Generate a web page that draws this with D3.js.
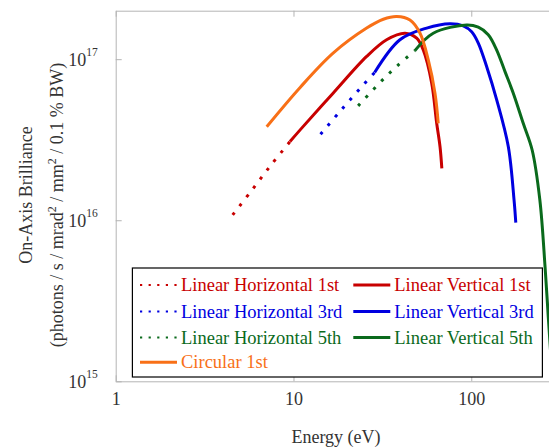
<!DOCTYPE html>
<html>
<head>
<meta charset="utf-8">
<script src="https://cdn.jsdelivr.net/npm/d3@7"></script>
<style>
  html, body { margin: 0; padding: 0; background: #fff; }
  svg { display: block; font-family: "Liberation Serif", "DejaVu Serif", serif; }
</style>
</head>
<body>
<svg id="chart" width="549" height="447"></svg>
<script>
// Energy (eV) / brilliance pairs, one array per curve
const lh1 = [[4.55, 1.08e16], [5.84, 1.54e16], [7.47, 2.20e16], [9.56, 3.08e16]];
const lv1 = [[9.56, 3.08e16], [10.9, 3.64e16], [16.7, 6.15e16], [25.8, 1.04e17], [33.4, 1.32e17],
  [42.4, 1.45e17], [49.3, 1.35e17], [53.7, 1.14e17], [59.9, 7.1e16], [63.9, 4.0e16],
  [66.7, 2.87e16], [68.3, 2.10e16]];
const lh3 = [[14.2, 3.42e16], [18.7, 4.89e16], [24.7, 6.92e16], [28.6, 8.26e16]];
const lv3 = [[28.6, 8.26e16], [39.7, 1.32e17], [56.1, 1.56e17], [75.9, 1.66e17], [90.2, 1.61e17],
  [100.5, 1.48e17], [109.5, 1.26e17], [122, 9.0e16], [139, 5.59e16], [161.5, 2.87e16],
  [174, 1.34e16], [178, 9.67e15]];
const lh5 = [[23.1, 5.13e16], [31.3, 7.33e16], [38.9, 9.22e16], [48.2, 1.13e17]];
const lv5 = [[48.2, 1.13e17], [61.1, 1.45e17], [94.2, 1.63e17], [109.5, 1.58e17], [124.6, 1.42e17],
  [139, 1.14e17], [154.8, 8.37e16], [172.3, 6.15e16], [196, 4.0e16], [220, 2.73e16],
  [243, 1.34e16], [260, 5.15e15], [271, 2.52e15], [285, 1.1e15]];
const circ1 = [[7.07, 3.81e16], [10.9, 6.68e16], [16.7, 1.09e17], [25.8, 1.56e17], [32.0, 1.77e17],
  [38.1, 1.84e17], [45.2, 1.75e17], [51.5, 1.45e17], [57.3, 9.9e16], [62.5, 6.15e16], [65.2, 4.0e16]];

const seriesNames = ['Linear Horizontal 1st', 'Linear Vertical 1st', 'Linear Horizontal 3rd',
  'Linear Vertical 3rd', 'Linear Horizontal 5th', 'Linear Vertical 5th', 'Circular 1st'];
const seriesData = [lh1, lv1, lh3, lv3, lh5, lv5, circ1];
const seriesColors = ['#c80000', '#c80000', '#0000e0', '#0000e0', '#0a6a1c', '#0a6a1c', '#f87017'];
const seriesDotted = [true, false, true, false, true, false, false];

const xTicks = [1, 10, 100];
const yTicks = [1e15, 1e16, 1e17];
const yTickExp = ['15', '16', '17'];

const AXIS = '#b4b4b4';
const TEXT = '#333';

const svg = d3.select('#chart');
const plotLeft = 115.7, plotTop = 10.7, plotBottom = 381.3;
const x = d3.scaleLog().domain([1, 300]).range([plotLeft, 556.1]);
const y = d3.scaleLog().domain([1e15, 2e17]).range([plotBottom, plotTop]);
const plotRight = x.range()[1];

svg.append('defs').append('clipPath').attr('id', 'plot-clip')
  .append('rect').attr('x', plotLeft).attr('y', plotTop)
  .attr('width', plotRight - plotLeft).attr('height', plotBottom - plotTop);

// axes: ticks point inwards, labels only on bottom / left
const styleAxis = (g) => {
  g.selectAll('.domain, .tick line').attr('stroke', AXIS).attr('stroke-width', 1);
  g.selectAll('.tick text').attr('fill', TEXT).attr('font-size', '18px')
    .attr('font-family', '"Liberation Serif", serif');
};

svg.append('g').attr('transform', `translate(0,${plotBottom})`)
  .call(d3.axisBottom(x).tickValues(xTicks).tickFormat(d3.format('d')).tickSizeInner(-6).tickSizeOuter(0).tickPadding(11))
  .call(styleAxis);
svg.append('g').attr('transform', `translate(0,${plotTop})`)
  .call(d3.axisTop(x).tickValues(xTicks).tickFormat('').tickSizeInner(-6).tickSizeOuter(0))
  .call(styleAxis);

const yAxis = svg.append('g').attr('transform', `translate(${plotLeft},0)`)
  .call(d3.axisLeft(y).tickValues(yTicks).tickFormat('').tickSizeInner(-6).tickSizeOuter(0))
  .call(styleAxis);
yAxis.selectAll('.tick').each(function (d, i) {
  const t = d3.select(this).append('text')
    .attr('x', -18).attr('y', 6).attr('text-anchor', 'end')
    .attr('fill', TEXT).attr('font-size', '18px').attr('font-family', '"Liberation Serif", serif');
  t.append('tspan').text('10');
  t.append('tspan').attr('dy', -9.5).attr('font-size', '11.5px').text(yTickExp[i]);
});
svg.append('g').attr('transform', `translate(${plotRight},0)`)
  .call(d3.axisRight(y).tickValues(yTicks).tickFormat('').tickSizeInner(-6).tickSizeOuter(0))
  .call(styleAxis);

// curves
const line = d3.line()
  .x((d) => x(d[0])).y((d) => y(d[1]))
  .curve(d3.curveCatmullRom.alpha(0.5));

const plot = svg.append('g').attr('clip-path', 'url(#plot-clip)');
const order = [0, 2, 4, 1, 3, 5, 6];
order.forEach((i) => {
  plot.append('path')
    .datum(seriesData[i])
    .attr('d', line)
    .attr('fill', 'none')
    .attr('stroke', seriesColors[i])
    .attr('stroke-width', 3)
    .attr('stroke-dasharray', seriesDotted[i] ? '3 8.2' : null);
});

// legend
const lg = svg.append('g');
lg.append('rect')
  .attr('x', 132.4).attr('y', 268).attr('width', 410).attr('height', 109)
  .attr('fill', '#fff').attr('stroke', '#000').attr('stroke-width', 1.2);

const legendCols = [140, 353.3];
const legendRows = [285, 311.5, 337.5, 362.3];
seriesNames.forEach((name, i) => {
  const cx = legendCols[i % 2];
  const cy = legendRows[Math.floor(i / 2)];
  lg.append('line')
    .attr('x1', cx).attr('x2', cx + 37).attr('y1', cy).attr('y2', cy)
    .attr('stroke', seriesColors[i]).attr('stroke-width', seriesDotted[i] ? 2.2 : 3)
    .attr('stroke-dasharray', seriesDotted[i] ? '2.2 6.4' : null);
  lg.append('text')
    .attr('x', cx + 41).attr('y', cy).attr('dy', '0.33em')
    .attr('fill', seriesColors[i]).attr('font-size', '18.5px')
    .text(name);
});

// axis titles
svg.append('text')
  .attr('x', 336).attr('y', 443)
  .attr('text-anchor', 'middle').attr('fill', TEXT).attr('font-size', '18px')
  .text('Energy (eV)');

const yTitle = svg.append('text')
  .attr('transform', 'translate(0,195) rotate(-90)')
  .attr('text-anchor', 'middle').attr('fill', TEXT).attr('font-size', '18px');
yTitle.append('tspan').attr('x', 0).attr('y', 32).text('On-Axis Brilliance');
yTitle.append('tspan').attr('x', -10).attr('y', 63).text('(photons / s / mrad');
yTitle.append('tspan').attr('dy', -7).attr('font-size', '12px').text('2');
yTitle.append('tspan').attr('dy', 7).text(' / mm');
yTitle.append('tspan').attr('dy', -7).attr('font-size', '12px').text('2');
yTitle.append('tspan').attr('dy', 7).text(' / 0.1 % BW)');
</script>
</body>
</html>
